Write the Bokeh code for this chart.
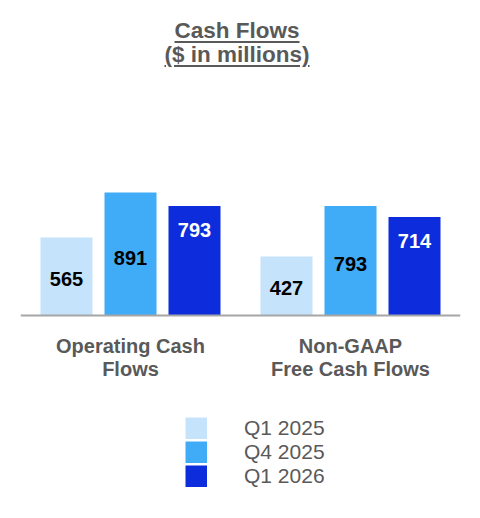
from bokeh.plotting import figure
from bokeh.models import FactorRange, Range1d, Span, Legend, LegendItem, Div, ColumnDataSource
from bokeh.layouts import column
from bokeh.core.properties import value
from bokeh.embed import file_html
from bokeh.resources import INLINE

# ---- data ----
categories = ["Operating Cash\nFlows", "Non-GAAP\nFree Cash Flows"]
series = ["Q1 2025", "Q4 2025", "Q1 2026"]
q1_2025 = [565, 427]
q4_2025 = [891, 793]
q1_2026 = [793, 714]
values = [q1_2025, q4_2025, q1_2026]
colors = ["#c5e3fb", "#40abf6", "#0d2ddc"]
label_colors = ["#000000", "#000000", "#ffffff"]

FONT = "Liberation Sans"
GRAY = "#595959"

title = Div(
    text=('<div style="font-family:\'Liberation Sans\',Arial,sans-serif;font-weight:bold;'
          'font-size:22.5px;line-height:24px;color:#595959;text-align:center;'
          'text-decoration:underline;text-decoration-thickness:2px;text-underline-offset:3px;'
          'padding-top:14px;width:464px;">Cash Flows<br>($ in millions)</div>'),
    width=464, height=62,
)

factors = [(c, s) for c in categories for s in series]
x_range = FactorRange(*factors, factor_padding=0.0, group_padding=0.4375,
                      range_padding=0.21875, range_padding_units="absolute")

p = figure(width=464, height=440, x_range=x_range, y_range=Range1d(-1428, 1761),
           output_backend="svg", toolbar_location=None,
           min_border_left=20, min_border_right=4, min_border_top=0, min_border_bottom=0)
p.axis.visible = False
p.grid.visible = False
p.outline_line_color = None

items = []
for s, vals, col, lcol in zip(series, values, colors, label_colors):
    xs = [(c, s) for c in categories]
    if lcol == "#ffffff":
        ly = [v - 173 for v in vals]
    else:
        ly = [v * 0.47 for v in vals]
    src = ColumnDataSource(dict(x=xs, top=vals, ly=ly, txt=[str(v) for v in vals]))
    p.vbar(x="x", top="top", width=0.8125, source=src, fill_color=col, line_color=None)
    p.text(x="x", y="ly", text="txt", source=src, text_align="center", text_baseline="middle",
           text_font=value(FONT), text_font_style="bold", text_font_size="20px", text_color=lcol)
    # legend swatch: a single-point thick line (draws nothing in the plot, a solid square in the legend)
    sw = p.line(x=[xs[0]], y=[0], line_color=col, line_width=22, line_cap="butt")
    items.append(LegendItem(label=s, renderers=[sw]))

p.add_layout(Span(location=0, dimension="width", line_color="#a6a6a6", line_width=2))

csrc = ColumnDataSource(dict(x=categories, y=[-143] * len(categories), t=categories))
p.text(x="x", y="y", text="t", source=csrc, text_align="center", text_baseline="top",
       text_font=value(FONT), text_font_style="bold", text_font_size="20px",
       text_color=GRAY, text_line_height=1.02)

legend = Legend(items=items, location=(165, 24), orientation="vertical",
                glyph_width=22, glyph_height=22, label_standoff=37, spacing=0,
                padding=0, margin=0, border_line_color=None, background_fill_alpha=0,
                label_text_font=FONT, label_text_font_size="21px", label_text_color=GRAY)
p.add_layout(legend)

layout = column(title, p, spacing=0)
open("out.html", "w").write(file_html(layout, INLINE))
